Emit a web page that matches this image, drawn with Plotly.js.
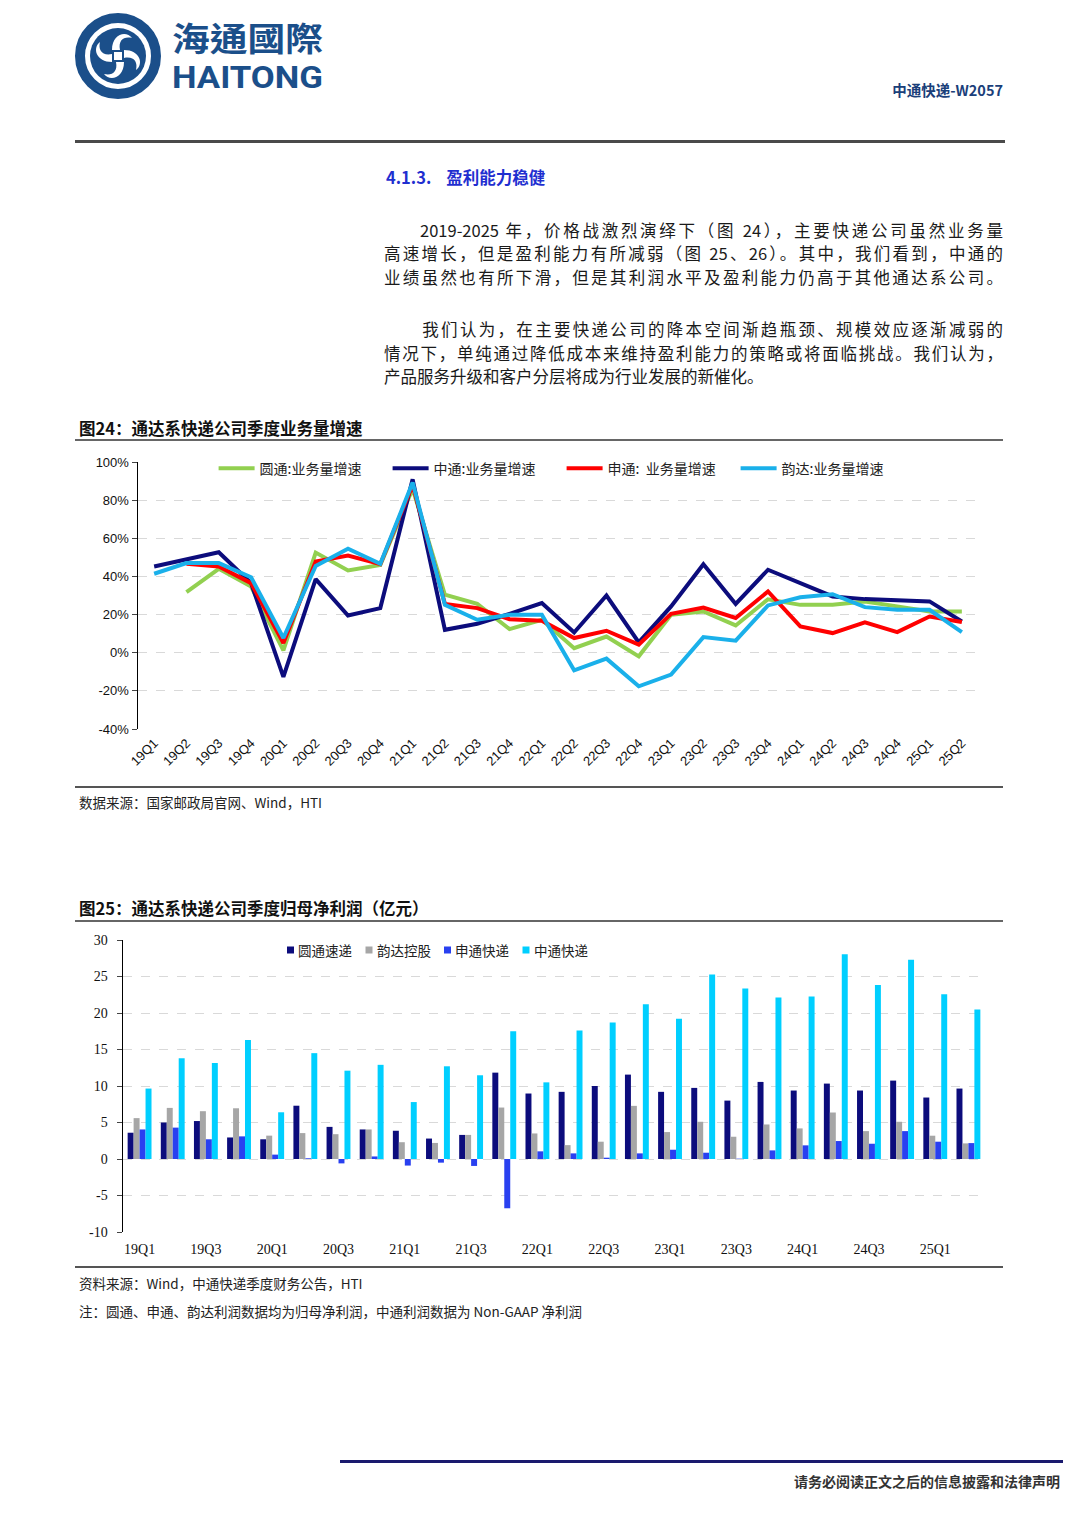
<!DOCTYPE html>
<html>
<head>
<meta charset="utf-8">
<script src="https://cdn.plot.ly/plotly-3.0.1.min.js"></script>
<style>
  html, body { margin:0; padding:0; background:#fff; }
  body { width:1080px; height:1527px; position:relative; overflow:hidden; font-family:"Noto Sans CJK SC","Noto Sans",sans-serif; color:#1a1a1a; }
  .abs { position:absolute; }
  .rule { position:absolute; background:#555; }
  .line { position:absolute; left:384px; width:619px; font-size:16.5px; line-height:22px; white-space:nowrap; text-align:justify; text-align-last:justify; }
  .line.last { text-align-last:left; }
  .ttl { position:absolute; left:79px; font-size:16.5px; font-weight:bold; line-height:22px; color:#111; }
  .src { position:absolute; left:79px; font-size:13.5px; line-height:18px; color:#222; }
</style>
</head>
<body>
<script>
// ---------------- DATA ----------------
const quarters = ["19Q1","19Q2","19Q3","19Q4","20Q1","20Q2","20Q3","20Q4","21Q1","21Q2","21Q3","21Q4","22Q1","22Q2","22Q3","22Q4","23Q1","23Q2","23Q3","23Q4","24Q1","24Q2","24Q3","24Q4","25Q1","25Q2"];

// Fig 24: business volume growth (%)
const ytoVolume  = [null,31.8,44.0,34.7,1.2,52.5,43.1,46.0,86.0,30.4,25.6,12.4,17.3,2.4,8.5,-1.9,19.9,21.6,14.3,28.0,25.1,25.1,26.9,24.3,21.6,21.6];
const ztoVolume  = [45.2,48.7,52.7,36.5,-12.7,38.6,19.5,23.4,90.9,12.0,15.2,20.4,26.0,10.6,30.0,5.4,24.3,46.4,25.6,43.5,36.5,29.5,28.1,27.7,26.9,16.4];
const stoVolume  = [null,46.6,45.2,36.5,5.1,47.8,51.0,46.4,88.0,25.6,23.4,17.6,16.8,7.7,11.5,4.2,20.4,23.7,18.2,32.1,13.8,10.3,15.9,10.8,19.0,16.1];
const ydVolume   = [41.4,47.0,47.0,39.6,7.7,45.5,54.5,46.6,89.2,25.1,17.3,19.9,19.9,-9.2,-3.1,-17.6,-11.5,8.2,6.3,24.8,29.1,30.7,23.9,22.5,22.5,10.8];
const volNames   = ["圆通:业务量增速","中通:业务量增速","申通:  业务量增速","韵达:业务量增速"];
const volTickVals = [-40,-20,0,20,40,60,80,100];
const volTickText = ["-40%","-20%","0%","20%","40%","60%","80%","100%"];

// Fig 25: quarterly net profit attributable (100m CNY)
const ytoProfit  = [3.6,5.0,5.2,2.95,2.7,7.3,4.4,4.05,3.87,2.8,3.3,11.83,8.97,9.2,10.0,11.56,9.2,9.74,8.0,10.56,9.38,10.33,9.38,10.74,8.42,9.65];
const ydProfit   = [5.6,7.0,6.55,6.95,3.2,3.55,3.4,4.05,2.3,2.2,3.3,7.05,3.5,1.9,2.37,7.28,3.69,5.1,3.05,4.73,4.19,6.37,3.82,5.1,3.19,2.14];
const stoProfit  = [4.05,4.3,2.7,3.1,0.6,0.1,-0.6,0.35,-0.9,-0.5,-0.95,-6.75,1.05,0.77,0.18,0.77,1.27,0.86,0.05,1.18,1.87,2.46,2.09,3.82,2.37,2.18];
const ztoProfit  = [9.65,13.8,13.15,16.3,6.4,14.5,12.1,12.9,7.8,12.7,11.47,17.5,10.5,17.6,18.7,21.2,19.2,25.26,23.35,22.12,22.26,28.04,23.85,27.3,22.58,20.48];
const profitNames = ["圆通速递","韵达控股","申通快递","中通快递"];
const profitTickLabels = ["19Q1","19Q3","20Q1","20Q3","21Q1","21Q3","22Q1","22Q3","23Q1","23Q3","24Q1","24Q3","25Q1"];
const profitYTickVals = [-10,-5,0,5,10,15,20,25,30];
const profitYTickText = ["-10","-5","0","5","10","15","20","25","30"];
</script>

<!-- Header -->
<svg class="abs" style="left:0;top:0" width="1080" height="150">
  <g transform="translate(118,56)">
    <circle r="38" fill="none" stroke="#1b4f8a" stroke-width="10"/>
    <circle r="28" fill="#1b4f8a"/>
    <path d="M-6,-6 C-6,-22 8,-26 14,-18 C6,-20 0,-16 2,-6 Z" fill="#fff"/>
    <path d="M6,-6 C22,-6 26,8 18,14 C20,6 16,0 6,2 Z" fill="#fff"/>
    <path d="M6,6 C6,22 -8,26 -14,18 C-6,20 0,16 -2,6 Z" fill="#fff"/>
    <path d="M-6,6 C-22,6 -26,-8 -18,-14 C-20,-6 -16,0 -6,-2 Z" fill="#fff"/>
    <rect x="-4" y="-4" width="8" height="8" fill="#fff"/>
  </g>
  <text x="172" y="51" font-family="Noto Sans CJK TC" font-weight="bold" font-size="33" fill="#1b4f8a" textLength="151" lengthAdjust="spacingAndGlyphs">海通國際</text>
  <text x="172" y="88" font-family="Roboto, Liberation Sans" font-weight="bold" font-size="31" fill="#1b4f8a" textLength="151" lengthAdjust="spacingAndGlyphs">HAITONG</text>
  <text x="1003" y="96" text-anchor="end" font-family="Noto Sans CJK SC" font-weight="bold" font-size="14.5" fill="#1b3f7a">中通快递-W2057</text>
</svg>
<div class="rule" style="left:75px;top:140px;width:930px;height:2.5px;background:#4a4a4a"></div>

<div class="abs" style="left:386px;top:165px;font-size:16.5px;font-weight:bold;color:#1f2fd0;line-height:24px;">4.1.3.&nbsp;&nbsp;&nbsp;&nbsp;盈利能力稳健</div>

<div class="line" style="top:219px;"><span style="display:inline-block;width:36px"></span>2019-2025 年，价格战激烈演绎下（图 24），主要快递公司虽然业务量</div>
<div class="line" style="top:242px;">高速增长，但是盈利能力有所减弱（图 25、26）。其中，我们看到，中通的</div>
<div class="line" style="top:266px;">业绩虽然也有所下滑，但是其利润水平及盈利能力仍高于其他通达系公司。</div>
<div class="line" style="top:318px;"><span style="display:inline-block;width:36px"></span>我们认为，在主要快递公司的降本空间渐趋瓶颈、规模效应逐渐减弱的</div>
<div class="line" style="top:342px;">情况下，单纯通过降低成本来维持盈利能力的策略或将面临挑战。我们认为，</div>
<div class="line last" style="top:365px;">产品服务升级和客户分层将成为行业发展的新催化。</div>

<div class="ttl" style="top:417px;">图24：通达系快递公司季度业务量增速</div>
<div class="rule" style="left:75px;top:439px;width:928px;height:1.5px;background:#666"></div>

<div id="c1" class="abs" style="left:0;top:450px;width:1000px;height:340px;"></div>

<div class="rule" style="left:75px;top:786px;width:928px;height:1.5px;background:#555"></div>
<div class="src" style="top:793px;">数据来源：国家邮政局官网、Wind，HTI</div>

<div class="ttl" style="top:897px;">图25：通达系快递公司季度归母净利润（亿元）</div>
<div class="rule" style="left:75px;top:920px;width:928px;height:1.5px;background:#666"></div>

<div id="c2" class="abs" style="left:0;top:930px;width:1000px;height:340px;"></div>

<div class="rule" style="left:75px;top:1266px;width:928px;height:1.5px;background:#555"></div>
<div class="src" style="top:1274px;">资料来源：Wind，中通快递季度财务公告，HTI</div>
<div class="src" style="top:1302px;">注：圆通、申通、韵达利润数据均为归母净利润，中通利润数据为 Non-GAAP 净利润</div>

<div class="rule" style="left:340px;top:1460px;width:723px;height:3px;background:#1a1a6e"></div>
<div class="abs" style="right:20px;top:1471px;font-size:14px;font-weight:bold;color:#333;">请务必阅读正文之后的信息披露和法律声明</div>

<script>
const cfg = {staticPlot:true, displayModeBar:false};
const gridCol = '#d9d9d9';

// ---------- Chart 1 ----------
const volColors = ['#92d050','#0c0c7c','#ff0000','#1ab0ea'];
const volSeries = [ytoVolume, ztoVolume, stoVolume, ydVolume];
const t1 = volSeries.map((s,i)=>({
  type:'scatter', mode:'lines', x:quarters, y:s, name:volNames[i],
  line:{color:volColors[i], width:4}, connectgaps:false
}));
Plotly.newPlot('c1', t1, {
  width:1000, height:340,
  margin:{l:138, r:22, t:12, b:61, autoexpand:false},
  paper_bgcolor:'rgba(0,0,0,0)', plot_bgcolor:'rgba(0,0,0,0)',
  showlegend:true,
  legend:{orientation:'h', x:0.09, y:1.035, xanchor:'left', yanchor:'top',
          font:{family:'Noto Sans CJK SC', size:14, color:'#222'},
          bgcolor:'rgba(0,0,0,0)', itemwidth:36, entrywidth:123, entrywidthmode:'pixels', traceorder:'normal'},
  xaxis:{type:'category', range:[-0.5,25.5], showgrid:false, zeroline:false, showline:false,
         ticks:'', tickangle:-45, ticklabelstandoff:3, tickfont:{family:'Liberation Sans', size:13, color:'#111'}, automargin:false},
  xaxis2:{overlaying:'x', anchor:'free', position:40/140, range:[-0.5,25.5], tick0:-0.5, dtick:1,
          showgrid:true, gridcolor:gridCol, griddash:'dash', gridwidth:1,
          showline:true, linecolor:'#000', linewidth:1.5, ticks:'outside', ticklen:5, tickcolor:'#000',
          showticklabels:false, zeroline:false},
  yaxis:{range:[-40,100], tickvals:volTickVals, ticktext:volTickText, showgrid:true, gridcolor:gridCol, griddash:'dash',
         zeroline:false, showline:true, linecolor:'#000', linewidth:1.5, ticks:'outside', ticklen:5,
         tickfont:{family:'Liberation Sans', size:13, color:'#111'}, automargin:false}
}, cfg);

// ---------- Chart 2 ----------
const profColors = ['#0c0c7c','#a6a6a6','#2940f0','#00cfff'];
const profSeries = [ytoProfit, ydProfit, stoProfit, ztoProfit];
const t2 = profSeries.map((s,i)=>({
  type:'bar', x:quarters, y:s, name:profitNames[i], marker:{color:profColors[i]}, showlegend:false
}));
// compact legend (small square keys), positioned in paper coordinates
const plotW2 = 862, plotH2 = 292;
const legX0 = 164, legStep = 78.5, legYc = 10;   // px from plot left / top
const legShapes = profitNames.map((n,i)=>({
  type:'rect', xref:'paper', yref:'paper',
  x0:(legX0 + i*legStep)/plotW2, x1:(legX0 + i*legStep + 7)/plotW2,
  y0:1-(legYc+3.5)/plotH2, y1:1-(legYc-3.5)/plotH2,
  fillcolor:profColors[i], line:{width:0}
}));
const legAnn = profitNames.map((n,i)=>({
  xref:'paper', yref:'paper', x:(legX0 + i*legStep + 9)/plotW2, y:1-legYc/plotH2,
  xanchor:'left', yanchor:'middle', text:n, showarrow:false,
  font:{family:'Noto Sans CJK SC', size:13.5, color:'#222'}
}));
Plotly.newPlot('c2', t2, {
  width:1000, height:340,
  margin:{l:123, r:15, t:10, b:38, autoexpand:false},
  paper_bgcolor:'rgba(0,0,0,0)', plot_bgcolor:'rgba(0,0,0,0)',
  barmode:'group', bargap:0.28, bargroupgap:0,
  showlegend:false,
  shapes:legShapes, annotations:legAnn,
  xaxis:{type:'category', range:[-0.5,25.5], showgrid:false, zeroline:false, showline:false, ticks:'',
         tickvals:profitTickLabels, ticktext:profitTickLabels, tickangle:0, ticklabelstandoff:7,
         tickfont:{family:'Liberation Serif', size:14, color:'#111'}, automargin:false},
  xaxis2:{overlaying:'x', anchor:'free', position:10/40, range:[-0.5,25.5], tick0:-0.5, dtick:1,
          showgrid:true, gridcolor:gridCol, griddash:'dash', gridwidth:1,
          showline:true, linecolor:'#000', linewidth:1.5, ticks:'outside', ticklen:5, tickcolor:'#000',
          showticklabels:false, zeroline:false},
  yaxis:{range:[-10,30], tickvals:profitYTickVals, ticktext:profitYTickText, showgrid:true, gridcolor:gridCol, griddash:'dash',
         zeroline:false, showline:true, linecolor:'#000', linewidth:1.5, ticks:'outside', ticklen:5, ticklabelstandoff:6,
         tickfont:{family:'Liberation Serif', size:14, color:'#111'}, automargin:false}
}, cfg);
</script>
</body>
</html>
